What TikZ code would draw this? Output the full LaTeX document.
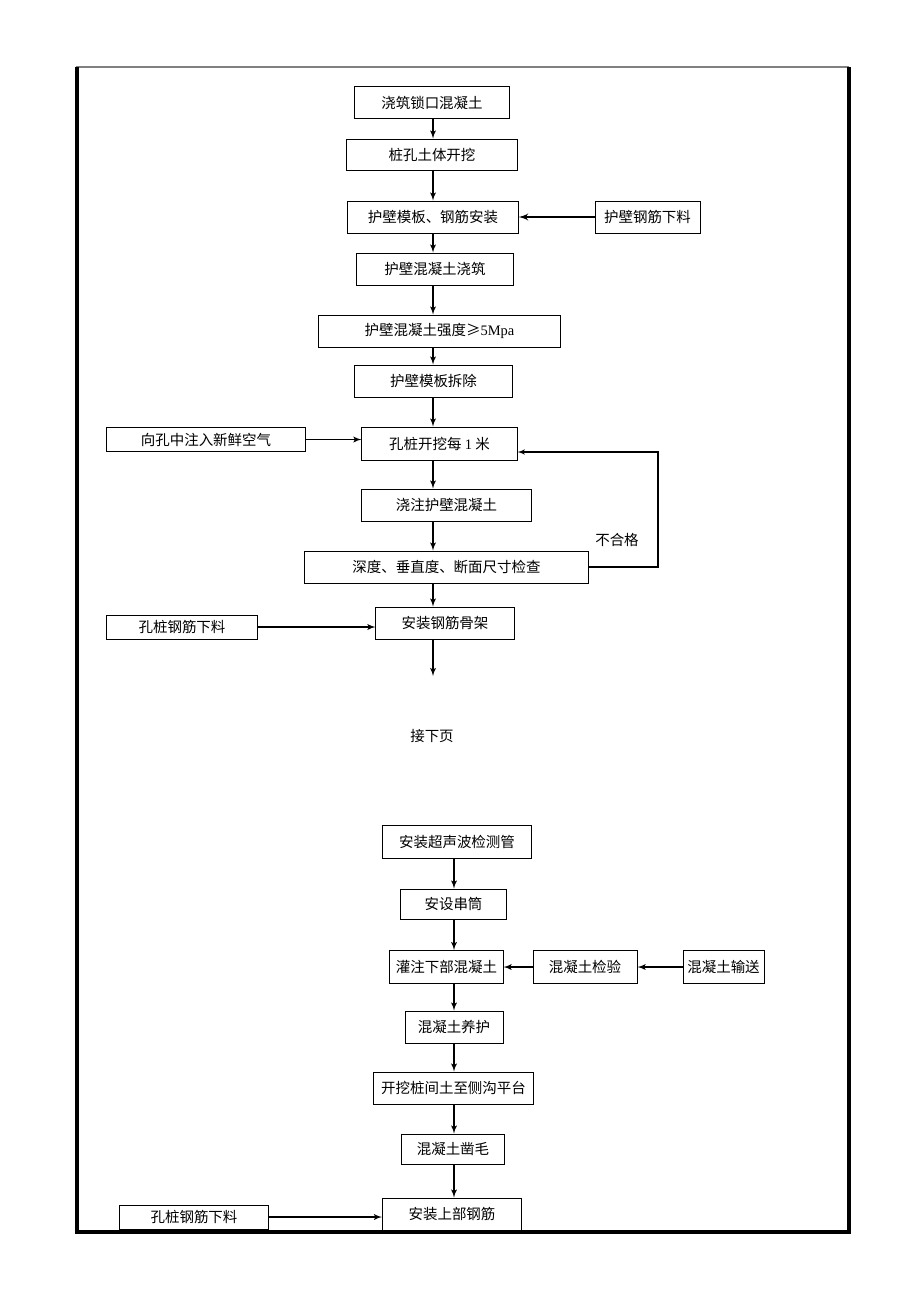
\documentclass[tikz,border=0pt]{standalone}
\usepackage{fontspec}
\setmainfont{Liberation Serif}
\newfontfamily\cjk{Noto Sans CJK SC}
\usetikzlibrary{arrows}
\tikzstyle{block} = [rectangle, draw, line width=0.7pt, font=\cjk\fontsize{10.3}{12}\selectfont, inner sep=0pt, minimum height=0.8cm]
\tikzstyle{side} = [block, minimum height=0.62cm]
\tikzstyle{line} = [draw, line width=1pt, -latex']
\tikzstyle{frame} = [draw, line width=2.2pt]

\begin{document}
\begin{tikzpicture}[x=0.025cm, y=-0.025cm]
    \useasboundingbox (0,0) rectangle (920,1302);
    % Page frame
    \draw [gray, line width=1.5pt] (76,67) -- (849,67);
    \draw [frame] (77,67) -- (77,1232) -- (849,1232) -- (849,67);
    % Helper coordinates
    \coordinate (spineA) at (433,0);
    \coordinate (spineB) at (454,0);
    \coordinate (next) at (433,676);
    \coordinate (ret) at (658,452);
    % Place nodes (upper part)
    \node [block, minimum width=3.85cm] (lock) at (432,102.5) {浇筑锁口混凝土};
    \node [block, minimum width=4.25cm, minimum height=0.775cm] (dig) at (432,154.5) {桩孔土体开挖};
    \node [block, minimum width=4.25cm] (form) at (433,217) {护壁模板、钢筋安装};
    \node [block, minimum width=2.625cm] (rebarA) at (647.5,217) {护壁钢筋下料};
    \node [block, minimum width=3.9cm] (wallpour) at (435,269) {护壁混凝土浇筑};
    \node [block, minimum width=6.025cm] (strength) at (439.5,331) {护壁混凝土强度≥{\rmfamily 5Mpa}};
    \node [block, minimum width=3.925cm] (strip) at (433.5,381) {护壁模板拆除};
    \node [block, minimum width=3.875cm, minimum height=0.825cm] (meter) at (439.5,443.5) {孔桩开挖每 {\rmfamily 1} 米};
    \node [side, minimum width=4.95cm] (air) at (206,439.5) {向孔中注入新鲜空气};
    \node [block, minimum width=4.225cm] (wallpourB) at (446.5,505) {浇注护壁混凝土};
    \node [block, minimum width=7.075cm] (check) at (446.5,567) {深度、垂直度、断面尺寸检查};
    \node [block, minimum width=3.45cm] (cage) at (445,623) {安装钢筋骨架};
    \node [side, minimum width=3.75cm, minimum height=0.6cm] (rebarB) at (182,627) {孔桩钢筋下料};
    \node [font=\cjk\fontsize{10.3}{12}\selectfont] (fail) at (617,540) {不合格};
    \node [font=\cjk\fontsize{10.3}{12}\selectfont] (cont) at (432,736) {接下页};
    % Place nodes (lower part)
    \node [block, minimum width=3.7cm, minimum height=0.825cm] (sonic) at (457,842) {安装超声波检测管};
    \node [block, minimum width=2.625cm, minimum height=0.75cm] (chute) at (453.5,904) {安设串筒};
    \node [block, minimum width=2.825cm, minimum height=0.825cm] (lowpour) at (446.5,967) {灌注下部混凝土};
    \node [block, minimum width=2.6cm, minimum height=0.825cm] (test) at (585,967) {混凝土检验};
    \node [block, minimum width=2.025cm, minimum height=0.825cm] (supply) at (723.5,967) {混凝土输送};
    \node [block, minimum width=2.45cm] (cure) at (454,1027) {混凝土养护};
    \node [block, minimum width=3.975cm] (platform) at (453.5,1088) {开挖桩间土至侧沟平台};
    \node [block, minimum width=2.575cm, minimum height=0.75cm] (rough) at (453,1149) {混凝土凿毛};
    \node [block, minimum width=3.475cm] (upper) at (452,1214) {安装上部钢筋};
    \node [side, minimum width=3.725cm, minimum height=0.6cm] (rebarC) at (194,1217) {孔桩钢筋下料};
    % Draw edges
    \path [line] (lock.south -| spineA) -- (dig.north -| spineA);
    \path [line] (dig.south -| spineA) -- (form.north -| spineA);
    \path [line, line width=1.4pt] (rebarA) -- (form);
    \path [line] (form.south -| spineA) -- (wallpour.north -| spineA);
    \path [line] (wallpour.south -| spineA) -- (strength.north -| spineA);
    \path [line] (strength.south -| spineA) -- (strip.north -| spineA);
    \path [line] (strip.south -| spineA) -- (meter.north -| spineA);
    \path [line] (air.east) -- (air.east -| meter.west);
    \path [line] (meter.south -| spineA) -- (wallpourB.north -| spineA);
    \path [line] (wallpourB.south -| spineA) -- (check.north -| spineA);
    \path [line, line width=0.8pt] (check.east) -| (ret) -- (ret -| meter.east);
    \path [line] (check.south -| spineA) -- (cage.north -| spineA);
    \path [line] (rebarB.east) -- (rebarB.east -| cage.west);
    \path [line] (cage.south -| next) -- (next);
    \path [line] (sonic.south -| spineB) -- (chute.north -| spineB);
    \path [line] (chute.south -| spineB) -- (lowpour.north -| spineB);
    \path [line] (supply) -- (test);
    \path [line] (test) -- (lowpour);
    \path [line] (lowpour.south -| spineB) -- (cure.north -| spineB);
    \path [line] (cure.south -| spineB) -- (platform.north -| spineB);
    \path [line] (platform.south -| spineB) -- (rough.north -| spineB);
    \path [line] (rough.south -| spineB) -- (upper.north -| spineB);
    \path [line] (rebarC.east) -- (rebarC.east -| upper.west);
\end{tikzpicture}
\end{document}
